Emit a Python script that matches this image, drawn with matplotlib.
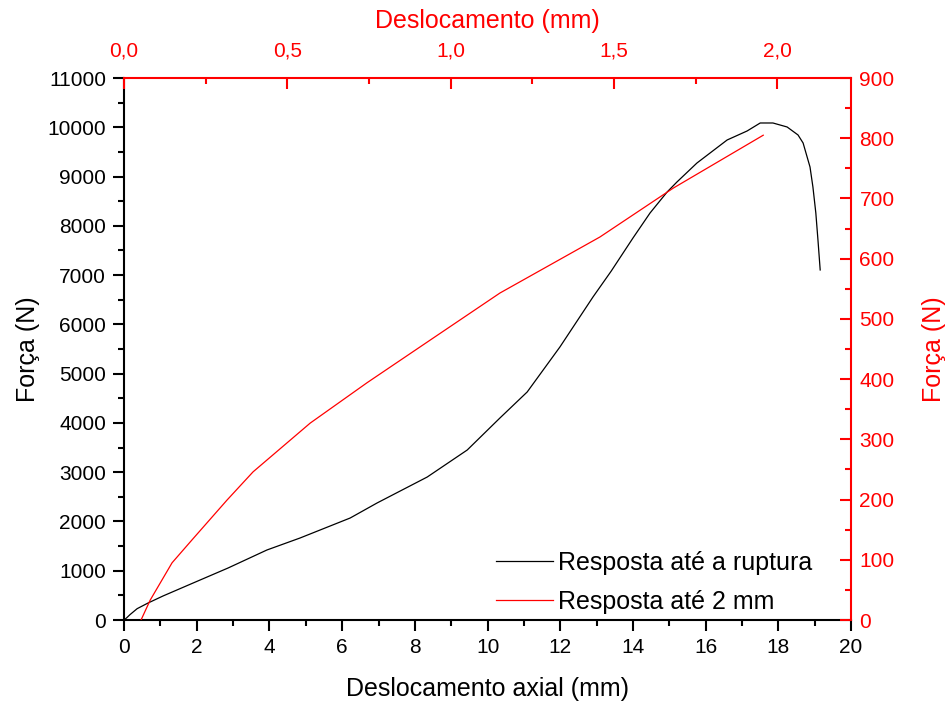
import numpy as np
import matplotlib.pyplot as plt
from matplotlib.ticker import MultipleLocator, FuncFormatter

plt.rcParams['font.family'] = ['Liberation Sans', 'DejaVu Sans']

# resposta ate a ruptura (eixos inferior / esquerdo)
desl_axial = [0, 0.08, 0.165, 0.36, 0.66, 1.07, 1.90, 2.86, 3.93, 4.84, 6.22,
              6.96, 8.34, 9.44, 10.34, 11.09, 11.99, 12.90, 13.40, 14.00,
              14.47, 14.94, 15.21, 15.76, 16.59, 17.14, 17.50, 17.85, 18.24,
              18.54, 18.68, 18.87, 18.95, 19.03, 19.09, 19.15]
forca_rup = [0, 50, 110, 230, 345, 487, 751, 1055, 1421, 1664, 2070,
             2375, 2902, 3450, 4100, 4628, 5541, 6556, 7080, 7753,
             8261, 8687, 8890, 9275, 9742, 9925, 10087, 10087, 10006,
             9844, 9681, 9194, 8788, 8261, 7700, 7104]

# resposta ate 2 mm (eixos superior / direito)
desl_2mm = [0.052, 0.080, 0.147, 0.208, 0.315, 0.395, 0.570, 0.744, 0.946,
            1.151, 1.457, 1.681, 1.957]
forca_2mm = [0, 33, 95, 133, 199, 246, 327, 394, 468, 543, 636, 717, 805]

fig = plt.figure(figsize=(9.52, 7.04), dpi=100)
pos = [0.1303, 0.1193, 0.7637, 0.7699]
ax = fig.add_axes(pos)
ax2 = fig.add_axes(pos, facecolor='none')

l1, = ax.plot(desl_axial, forca_rup, color='black', lw=0.9,
              label='Resposta até a ruptura')
l2, = ax2.plot(desl_2mm, forca_2mm, color='red', lw=0.9,
               label='Resposta até 2 mm')

# eixo inferior/esquerdo
ax.set_xlim(0, 20)
ax.set_ylim(0, 11000)
ax.xaxis.set_major_locator(MultipleLocator(2))
ax.xaxis.set_minor_locator(MultipleLocator(1))
ax.yaxis.set_major_locator(MultipleLocator(1000))
ax.yaxis.set_minor_locator(MultipleLocator(500))
ax.spines['top'].set_visible(False)
ax.spines['right'].set_visible(False)
for s in ['left', 'bottom']:
    ax.spines[s].set_linewidth(1.5)
ax.tick_params(which='major', direction='out', length=8, width=1.5,
               labelsize=15, pad=5)
ax.tick_params(which='minor', direction='out', length=4, width=1.5)
ax.set_xlabel('Deslocamento axial (mm)', fontsize=18, labelpad=14)
ax.set_ylabel('Força (N)', fontsize=18, labelpad=5)

# eixo superior/direito em vermelho
ax2.set_xlim(0, 2.226)
ax2.set_ylim(0, 900)
ax2.xaxis.tick_top()
ax2.xaxis.set_label_position('top')
ax2.yaxis.tick_right()
ax2.yaxis.set_label_position('right')
ax2.xaxis.set_major_locator(MultipleLocator(0.5))
ax2.xaxis.set_minor_locator(MultipleLocator(0.25))
ax2.yaxis.set_major_locator(MultipleLocator(100))
ax2.yaxis.set_minor_locator(MultipleLocator(50))
ax2.xaxis.set_major_formatter(FuncFormatter(lambda v, p: f'{v:.1f}'.replace('.', ',')))
ax2.spines['left'].set_visible(False)
ax2.spines['bottom'].set_visible(False)
for s in ['top', 'right']:
    ax2.spines[s].set_color('red')
    ax2.spines[s].set_linewidth(1.5)
ax2.tick_params(which='major', direction='in', length=8, width=1.5,
                colors='red', labelsize=15, pad=6)
ax2.tick_params(axis='x', which='major', pad=12.5)
ax2.tick_params(which='minor', direction='in', length=4, width=1.5,
                colors='red')
ax2.set_xlabel('Deslocamento (mm)', fontsize=18, color='red', labelpad=10)
ax2.set_ylabel('Força (N)', fontsize=18, color='red', labelpad=20)

ax2.legend([l1, l2], [l1.get_label(), l2.get_label()], loc='lower right',
           bbox_to_anchor=(0.978, -0.03), frameon=False, fontsize=18,
           handlelength=2.3, handletextpad=0.2, labelspacing=0.6)

fig.savefig('out.png', dpi=100)
